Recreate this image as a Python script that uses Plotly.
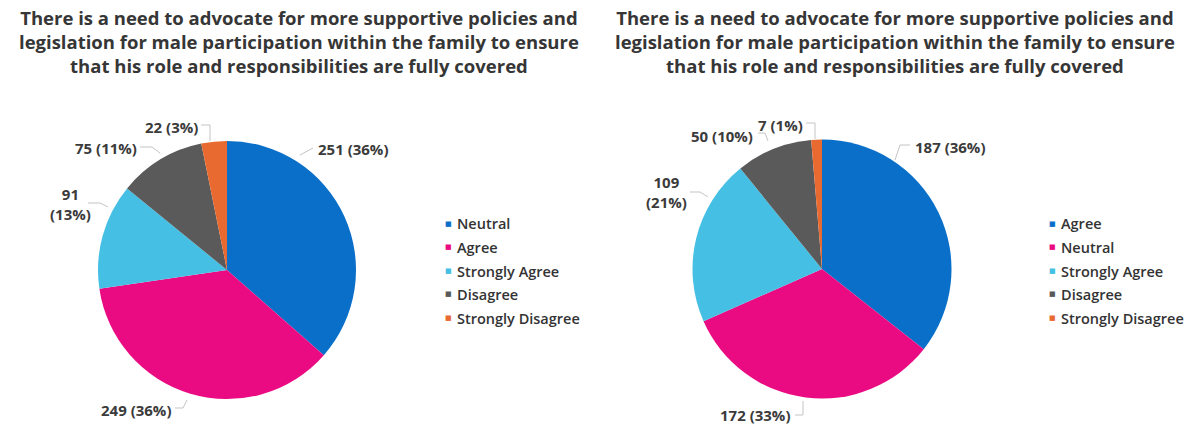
import plotly.graph_objects as go

W, H = 1186, 428

TITLE = ("There is a need to advocate for more supportive policies and<br>"
         "legislation for male participation within the family to ensure<br>"
         "that his role and responsibilities are fully covered")

# Left survey chart
left_labels = ["Neutral", "Agree", "Strongly Agree", "Disagree", "Strongly Disagree"]
left_values = [251, 249, 91, 75, 22]
left_colors = ["#0A6FC9", "#EA0A82", "#45BFE3", "#5A5A5A", "#E86A30"]

# Right survey chart
right_labels = ["Agree", "Neutral", "Strongly Agree", "Disagree", "Strongly Disagree"]
right_values = [187, 172, 109, 50, 7]
right_colors = ["#0A6FC9", "#EA0A82", "#45BFE3", "#5A5A5A", "#E86A30"]


def px(x):
    return x / W


def py(y):
    return 1 - y / H


def label_text(values, i, split=False):
    total = sum(values)
    pct = round(values[i] / total * 100)
    sep = "<br>" if split else " "
    return f"{values[i]}{sep}({pct}%)"


TEXT_COL = "#3b3b3b"
LEADER_COL = "#c4c4c4"

# pie geometry in pixels: (cx, cy, r)
pies = [
    (left_labels, left_values, left_colors, (227, 270, 129)),
    (right_labels, right_values, right_colors, (822, 269, 129.5)),
]

fig = go.Figure()
for labels, values, colors, (cx, cy, r) in pies:
    fig.add_trace(go.Pie(
        labels=labels, values=values, sort=False, direction="clockwise",
        rotation=0, textinfo="none", showlegend=False, hoverinfo="label+value+percent",
        marker=dict(colors=colors, line=dict(width=0)),
        domain=dict(x=[px(cx - r), px(cx + r)], y=[py(cy + r), py(cy - r)]),
    ))

annotations = []
shapes = []

# chart titles
for xc in (299, 895):
    annotations.append(dict(
        x=px(xc), y=py(41), xref="paper", yref="paper", text=TITLE,
        showarrow=False, xanchor="center", yanchor="middle", align="center",
        font=dict(family="Open Sans", size=18.5, color="#363636", weight="bold"),
    ))

# data label placement: (text centre x, y, split lines, leader polyline)
left_place = [
    (353, 149, False, [(313, 148), (300, 155)]),
    (136, 410, False, [(175, 408), (183, 408), (187, 400)]),
    (70, 204, True, [(88, 203), (100, 203), (108, 207)]),
    (106, 148, False, [(140, 147), (152, 147), (160, 153)]),
    (171, 127, False, [(201, 125), (210, 125), (210, 141)]),
]
right_place = [
    (950, 147, False, [(910, 145), (900, 145), (895, 160)]),
    (755, 415, False, [(795, 415), (803, 415), (803, 401)]),
    (666, 192, True, [(690, 192), (700, 192), (708, 197)]),
    (722, 136, False, [(758, 133), (765, 133), (768, 141)]),
    (780, 125, False, [(806, 123), (815, 123), (815, 139)]),
]

for values, place in ((left_values, left_place), (right_values, right_place)):
    for i, (tx, ty, split, leader) in enumerate(place):
        annotations.append(dict(
            x=px(tx), y=py(ty), xref="paper", yref="paper",
            text=label_text(values, i, split), showarrow=False,
            xanchor="center", yanchor="middle", align="center",
            font=dict(family="Open Sans", size=15, color=TEXT_COL, weight="bold"),
        ))
        path = "M " + " L ".join(f"{px(x):.5f},{py(y):.5f}" for x, y in leader)
        shapes.append(dict(type="path", xref="paper", yref="paper", path=path,
                           line=dict(color=LEADER_COL, width=1)))

# legends
legend_rows = [224, 247, 271, 294, 318]
for labels, colors, mx in ((left_labels, left_colors, 448), (right_labels, right_colors, 1052)):
    for lab, col, ry in zip(labels, colors, legend_rows):
        annotations.append(dict(
            x=px(mx), y=py(ry), xref="paper", yref="paper", text="■",
            showarrow=False, xanchor="center", yanchor="middle",
            font=dict(family="DejaVu Sans", size=7, color=col),
        ))
        annotations.append(dict(
            x=px(mx + 7), y=py(ry), xref="paper", yref="paper", text=lab,
            showarrow=False, xanchor="left", yanchor="middle",
            font=dict(family="Open Sans", size=14.5, color="#333333", weight=600),
        ))

fig.update_layout(
    width=W, height=H, margin=dict(l=0, r=0, t=0, b=0),
    paper_bgcolor="white", plot_bgcolor="white",
    annotations=annotations, shapes=shapes,
)

fig.write_html("out.html")
